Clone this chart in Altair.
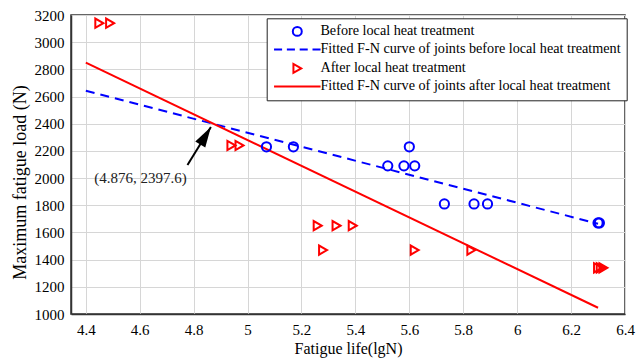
import altair as alt
import pandas as pd

# ---- data ----
S1 = "Before local heat treatment"
S2 = "Fitted F-N curve of joints before local heat treatment"
S3 = "After local heat treatment"
S4 = "Fitted F-N curve of joints after local heat treatment"
series = [S1, S2, S3, S4]

before_x = [5.07, 5.17, 5.52, 5.58, 5.60, 5.62, 5.73, 5.84, 5.89, 6.30, 6.305]
before_y = [2230, 2230, 2090, 2090, 2230, 2090, 1810, 1810, 1810, 1670, 1670]

after_x = [4.45, 4.49, 4.94, 4.97, 5.26, 5.33, 5.39, 5.28, 5.62, 5.83, 6.30, 6.31, 6.32]
after_y = [3140, 3140, 2240, 2240, 1650, 1650, 1650, 1470, 1470, 1470, 1340, 1340, 1340]

fit_x = [4.4, 6.3]
fit_before_y = [2643, 1664]
fit_after_y = [2849, 1046]

x_ticks = [4.4, 4.6, 4.8, 5.0, 5.2, 5.4, 5.6, 5.8, 6.0, 6.2, 6.4]
y_ticks = [1000, 1200, 1400, 1600, 1800, 2000, 2200, 2400, 2600, 2800, 3000, 3200]

annot_label = ["(4.876, 2397.6)"]
annot_x = [4.603]
annot_y = [2001]
arrow_tail_x = [4.777]
arrow_tail_y = [2096]
arrow_tip_x = [4.864]
arrow_tip_y = [2376]

# ---- tables ----
pts = pd.DataFrame({
    "x": before_x + after_x,
    "y": before_y + after_y,
    "series": [S1] * len(before_x) + [S3] * len(after_x),
})
fit_b = pd.DataFrame({"x": fit_x, "y": fit_before_y})
fit_a = pd.DataFrame({"x": fit_x, "y": fit_after_y})
ann = pd.DataFrame({"x": annot_x, "y": annot_y, "t": annot_label})
arr = pd.DataFrame({"x": arrow_tail_x, "y": arrow_tail_y, "x2": arrow_tip_x, "y2": arrow_tip_y})

FONT = "Liberation Serif"
xscale = alt.Scale(domain=[4.345, 6.4], nice=False, zero=False)
yscale = alt.Scale(domain=[1000, 3200], nice=False, zero=False)

xaxis = alt.Axis(values=x_ticks, format=".1~f", title="Fatigue life(lgN)",
                 labelPadding=8, titlePadding=3, titleFontSize=16)
yaxis = alt.Axis(values=y_ticks, format="d", title="Maximum fatigue load (N)",
                 labelPadding=7, titleFontSize=18,
                 titleX=-46, titleY=167, titleBaseline="alphabetic", titleAngle=270)

line_path = "M-5.2,0H5.2"
dash_path = "M-5.2,0H-3.4M-2.333,0H-0.533M0.533,0H2.333M3.4,0H5.2"

color_scale = alt.Scale(domain=series, range=["#0000ff", "#0000ff", "#ff0000", "#ff0000"])
shape_scale = alt.Scale(domain=series, range=["circle", dash_path, "triangle-right", line_path])

legend = alt.Legend(orient="none", legendX=195.7, legendY=3.3, title=None)

X = alt.X("x:Q", scale=xscale, axis=xaxis)
Y = alt.Y("y:Q", scale=yscale, axis=yaxis)

line_b = alt.Chart(fit_b).mark_line(color="#0000ff", strokeWidth=2, strokeDash=[9, 6]).encode(x=X, y=Y)
line_a = alt.Chart(fit_a).mark_line(color="#ff0000", strokeWidth=2).encode(x=X, y=Y)

points = alt.Chart(pts).mark_point(filled=False, strokeWidth=2, size=85, opacity=1).encode(
    x=X, y=Y,
    color=alt.Color("series:N", scale=color_scale, legend=legend),
    shape=alt.Shape("series:N", scale=shape_scale, legend=legend),
)

arrow_line = alt.Chart(arr).mark_rule(color="black", strokeWidth=2).encode(
    x=X, y=Y, x2="x2:Q", y2="y2:Q")
arrow_head = alt.Chart(arr).mark_point(
    shape="M0,0L-0.6,2.1L0.6,2.1Z", filled=True, color="black", opacity=1,
    size=380, angle=31.4).encode(
    x=alt.X("x2:Q", scale=xscale, axis=xaxis), y=alt.Y("y2:Q", scale=yscale, axis=yaxis))

text = alt.Chart(ann).mark_text(font=FONT, fontSize=15, color="#222222",
                                align="center", baseline="middle").encode(
    x=X, y=Y, text="t:N")

chart = alt.layer(line_b, line_a, points, arrow_line, arrow_head, text).properties(
    width=554, height=299,
    padding={"left": 71, "top": 15, "right": 11, "bottom": 46},
    autosize=alt.AutoSizeParams(type="none"),
    background="white",
).configure_view(
    stroke="#333333", strokeWidth=1.5
).configure_axis(
    labelFont=FONT, labelFontSize=15, labelColor="black", labelOverlap=False, labelFlush=False,
    titleFont=FONT, titleFontWeight="normal", titleColor="black",
    ticks=False, grid=True, gridColor="#d6d6d6", gridWidth=1,
    domainColor="#333333", domainWidth=1.5,
).configure_legend(
    padding=6, symbolOffset=17.5, labelOffset=16, rowPadding=2,
    labelFont=FONT, labelFontSize=14.2, labelLimit=500, labelColor="black",
    strokeColor="#222222", fillColor="white",
    symbolStrokeWidth=2, symbolSize=80, symbolFillColor="transparent",
)

chart.save("out.html", embed_options={"renderer": "svg", "actions": False})
